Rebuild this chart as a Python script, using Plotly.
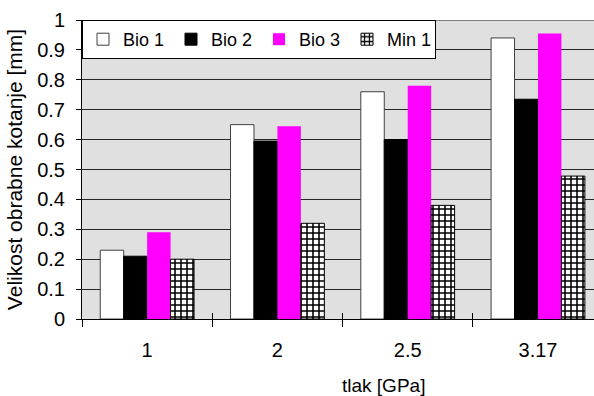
import plotly.graph_objects as go

categories = ["1", "2", "2.5", "3.17"]
bio1 = [0.23, 0.65, 0.76, 0.94]
bio2 = [0.21, 0.595, 0.60, 0.735]
bio3 = [0.29, 0.645, 0.78, 0.955]
min1 = [0.20, 0.32, 0.38, 0.478]
series_names = ["Bio 1", "Bio 2", "Bio 3", "Min 1"]
y_ticks = [round(i * 0.1, 1) for i in range(11)]

FONT = "Liberation Sans, Arial, sans-serif"
fig = go.Figure()
fig.add_trace(go.Bar(name=series_names[0], x=categories, y=bio1,
                     marker=dict(color="white", line=dict(color="#404040", width=1))))
fig.add_trace(go.Bar(name=series_names[1], x=categories, y=bio2,
                     marker=dict(color="black", line=dict(color="black", width=1))))
fig.add_trace(go.Bar(name=series_names[2], x=categories, y=bio3,
                     marker=dict(color="#ff00ff", line=dict(color="#ff00ff", width=0))))
fig.add_trace(go.Bar(name=series_names[3], x=categories, y=min1,
                     marker=dict(color="white", line=dict(color="black", width=1),
                                 pattern=dict(shape="+", size=6, solidity=0.45,
                                              fgcolor="black", bgcolor="white", fillmode="replace"))))

boundaries = [i - 0.5 for i in range(len(categories))]

fig.update_layout(
    width=594, height=396,
    margin=dict(l=82, r=0, t=20, b=77),
    paper_bgcolor="white",
    plot_bgcolor="#e0e0e0",
    barmode="group", bargap=0.28, bargroupgap=0,
    font=dict(family=FONT, size=20, color="black"),
    showlegend=True,
    legend=dict(orientation="h", x=0, y=1, xanchor="left", yanchor="top",
                bgcolor="white", bordercolor="black", borderwidth=1,
                font=dict(size=18), itemwidth=30, entrywidth=43, entrywidthmode="pixels",
                traceorder="normal", tracegroupgap=0),
    xaxis=dict(type="category", categoryarray=categories, range=[-0.5, 3.43],
               showline=True, linecolor="black", linewidth=1,
               ticks="outside", ticklen=7, tickcolor="black", tickson="boundaries",
               showgrid=False, ticklabelstandoff=13, zeroline=False),
    xaxis2=dict(overlaying="x", anchor="y", range=[-0.5, 3.43], type="linear",
                tickmode="array", tickvals=boundaries, ticks="inside", ticklen=6,
                tickcolor="black", showticklabels=False, showgrid=False,
                showline=False, zeroline=False, side="bottom"),
    yaxis=dict(range=[0, 1], tickmode="array", tickvals=y_ticks,
               ticktext=[f"{v:g}" for v in y_ticks],
               showline=True, linecolor="black", linewidth=1,
               ticks="outside", ticklen=5, tickcolor="black", ticklabelstandoff=7,
               showgrid=True, gridcolor="#262626", gridwidth=1, zeroline=False,
               title=dict(text="Velikost obrabne kotanje [mm]", standoff=8,
                          font=dict(size=21))),
    shapes=[dict(type="line", xref="paper", x0=0, x1=1, yref="y", y0=1, y1=1,
                 line=dict(color="#808080", width=2), layer="above")],
    annotations=[dict(text="tlak [GPa]", xref="paper", yref="paper",
                      x=0.588, y=-0.221, xanchor="center", yanchor="middle",
                      showarrow=False, font=dict(size=19))],
)
fig.add_trace(go.Scatter(x=[boundaries[0]], y=[0], xaxis="x2", yaxis="y",
                         mode="markers", marker=dict(opacity=0), showlegend=False,
                         hoverinfo="skip"))

fig.write_html("out.html")
